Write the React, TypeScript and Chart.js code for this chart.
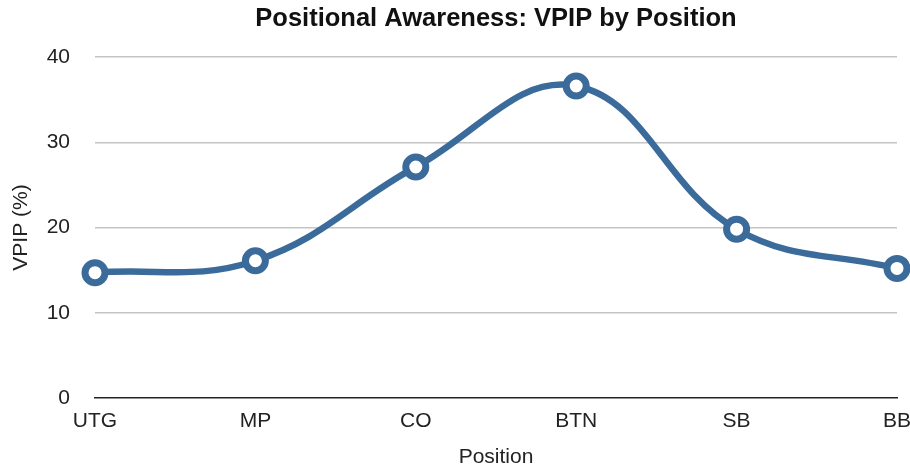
import React, { useEffect, useRef } from "react";
import { Chart, registerables } from "chart.js";

Chart.register(...registerables);

const positions = ["UTG", "MP", "CO", "BTN", "SB", "BB"];
const vpip = [14.7, 16.1, 27.1, 36.6, 19.8, 15.2];
const yTicks = [0, 10, 20, 30, 40];

const FONT = "'Liberation Sans', Arial, Helvetica, sans-serif";
const BLUE = "#3b6b9b";

export default function App() {
  const ref = useRef<HTMLCanvasElement | null>(null);

  useEffect(() => {
    document.body.style.margin = "0";
    const ctx = ref.current!;
    const chart = new Chart(ctx, {
      type: "line",
      data: {
        labels: positions,
        datasets: [
          {
            data: vpip,
            borderColor: BLUE,
            borderWidth: 6.5,
            tension: 0.4,
            pointRadius: 10,
            pointBorderWidth: 7,
            pointBackgroundColor: "#ffffff",
            pointBorderColor: BLUE,
            fill: false,
            clip: false as any,
          },
        ],
      },
      options: {
        animation: false,
        responsive: false,
        maintainAspectRatio: false,
        layout: { autoPadding: false, padding: { left: 0, right: 13, top: 0, bottom: 0 } },
        plugins: {
          legend: { display: false },
          tooltip: { enabled: false },
          title: {
            display: true,
            fullSize: false,
            text: "Positional Awareness: VPIP by Position",
            color: "#111",
            font: { family: FONT, size: 25.5, weight: "bold" },
            padding: { top: 4, bottom: 22.4 },
          },
        },
        scales: {
          x: {
            type: "category",
            offset: false,
            grid: { display: false, drawTicks: false },
            border: { display: true, color: "#222", width: 1.5 },
            ticks: {
              color: "#222",
              font: { family: FONT, size: 21 },
              padding: 11,
              maxRotation: 0,
              autoSkip: false,
            },
            title: {
              display: true,
              text: "Position",
              color: "#222",
              font: { family: FONT, size: 21 },
              padding: { top: 6, bottom: 0 },
            },
            afterFit: (s: any) => {
              s.height = 72;
              s.paddingLeft = 0;
              s.paddingRight = 0;
            },
          },
          y: {
            min: 0,
            max: 40,
            afterBuildTicks: (s: any) => {
              s.ticks = yTicks.map((v) => ({ value: v }));
            },
            grid: {
              color: (c: any) => (c.tick && c.tick.value === 0 ? "rgba(0,0,0,0)" : "#c4c4c4"),
              lineWidth: 1.5,
              drawTicks: false,
            },
            border: { display: false },
            ticks: {
              color: "#222",
              font: { family: FONT, size: 21 },
              padding: 25,
            },
            title: {
              display: true,
              text: "VPIP (%)",
              color: "#222",
              font: { family: FONT, size: 21 },
              padding: { top: 9, bottom: 4 },
            },
            afterFit: (s: any) => {
              s.width = 95;
              s.paddingTop = 0;
              s.paddingBottom = 0;
            },
          },
        },
      },
    });
    return () => chart.destroy();
  }, []);

  return (
    <div style={{ width: 910, height: 470 }}>
      <canvas ref={ref} width={910} height={470} style={{ display: "block" }} />
    </div>
  );
}
